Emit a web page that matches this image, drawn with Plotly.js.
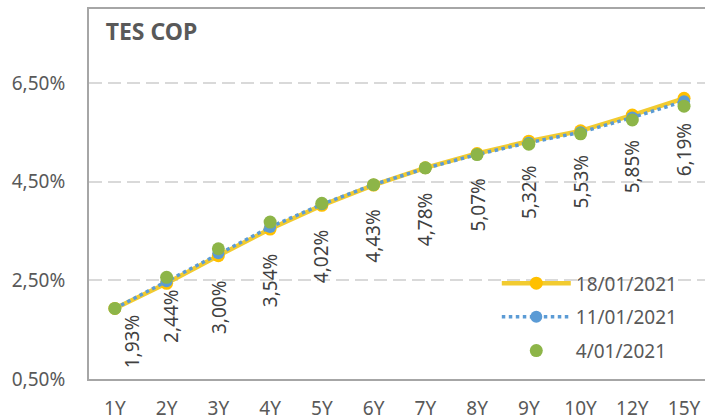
<!DOCTYPE html>
<html>
<head>
<meta charset="utf-8">
<script src="https://cdn.plot.ly/plotly-3.0.1.min.js"></script>
<style>html,body{margin:0;padding:0;background:#fff;}#chart{width:705px;height:420px;}</style>
</head>
<body>
<div id="chart"></div>
<script>
// ---- data ----
const tenors = ["1Y","2Y","3Y","4Y","5Y","6Y","7Y","8Y","9Y","10Y","12Y","15Y"];
const series18 = [1.93, 2.44, 3.00, 3.54, 4.02, 4.43, 4.78, 5.07, 5.32, 5.53, 5.85, 6.19];
const series11 = [1.93, 2.48, 3.05, 3.58, 4.04, 4.44, 4.77, 5.05, 5.29, 5.50, 5.80, 6.13];
const series04 = [1.93, 2.56, 3.14, 3.68, 4.06, 4.44, 4.78, 5.05, 5.26, 5.47, 5.75, 6.03];
const names = ["18/01/2021", "11/01/2021", "4/01/2021"];
const yTickVals = [0.5, 2.5, 4.5, 6.5];
const yTickText = ["0,50%", "2,50%", "4,50%", "6,50%"];
const chartTitle = "TES COP";

// ---- styling ----
const FONT = "Noto Sans, Open Sans, sans-serif";
const labelShiftX = [18, 5, 0, 0, 0, 0, 0, 0, 0, 0, 0, 0];
const labelShiftY = [-4, -4, -22, -22, -22, -22, -22, -22, -22, -22, -22, -22];

const fmt = v => v.toFixed(2).replace('.', ',') + '%';

const traces = [
  {
    x: tenors, y: series18, name: names[0], type: 'scatter', mode: 'lines+markers',
    line: {color: '#f2cb30', width: 4.5},
    marker: {color: '#ffc000', size: 13},
    legendgroup: 'a', hoverinfo: 'skip'
  },
  {
    x: tenors, y: series11, name: names[1], type: 'scatter', mode: 'lines+markers',
    line: {color: '#5b9bd5', width: 3.5, dash: 'dot'},
    marker: {color: '#5b9bd5', size: 12},
    legendgroup: 'b', hoverinfo: 'skip'
  },
  {
    x: tenors, y: series04, name: names[2], type: 'scatter', mode: 'markers',
    marker: {color: '#8db548', size: 13},
    legendgroup: 'c', hoverinfo: 'skip'
  }
];

const annotations = tenors.map((t, i) => ({
  x: t, y: series18[i], xref: 'x', yref: 'y',
  text: fmt(series18[i]), showarrow: false, textangle: -90,
  xanchor: 'center', yanchor: 'top',
  xshift: labelShiftX[i], yshift: labelShiftY[i],
  font: {family: FONT, size: 19, color: '#404040'}
}));

const layout = {
  width: 705, height: 420,
  margin: {l: 89, r: 0, t: 9, b: 41},
  paper_bgcolor: '#ffffff', plot_bgcolor: '#ffffff',
  font: {family: FONT, size: 19, color: '#595959'},
  title: {
    text: '<b>' + chartTitle + '</b>',
    font: {family: FONT, size: 23, color: '#595959'},
    xref: 'paper', x: 0.027, xanchor: 'left',
    yref: 'container', y: 0.924, yanchor: 'middle'
  },
  xaxis: {
    type: 'category', categoryorder: 'array', categoryarray: tenors,
    range: [-0.5, 11.405], fixedrange: true,
    showline: true, linecolor: '#a6a6a6', linewidth: 2, mirror: true,
    showgrid: false, zeroline: false, ticks: '', ticklabelstandoff: 11,
    tickfont: {family: FONT, size: 19, color: '#595959'}
  },
  yaxis: {
    range: [0.5, 8.0], fixedrange: true,
    tickvals: yTickVals, ticktext: yTickText,
    showline: true, linecolor: '#a6a6a6', linewidth: 2,
    showgrid: true, gridcolor: '#d9d9d9', gridwidth: 1.8, griddash: '13px,6px',
    zeroline: false, ticks: '', ticklabelstandoff: 18,
    tickfont: {family: FONT, size: 19, color: '#595959'}
  },
  legend: {
    x: 0.662, xanchor: 'left', y: 0.31, yanchor: 'top',
    bgcolor: 'rgba(0,0,0,0)', borderwidth: 0,
    tracegroupgap: 6, itemwidth: 69,
    font: {family: FONT, size: 19, color: '#595959'}
  },
  annotations: annotations,
  showlegend: true
};

Plotly.newPlot('chart', traces, layout, {displayModeBar: false, staticPlot: true});
</script>
</body>
</html>
